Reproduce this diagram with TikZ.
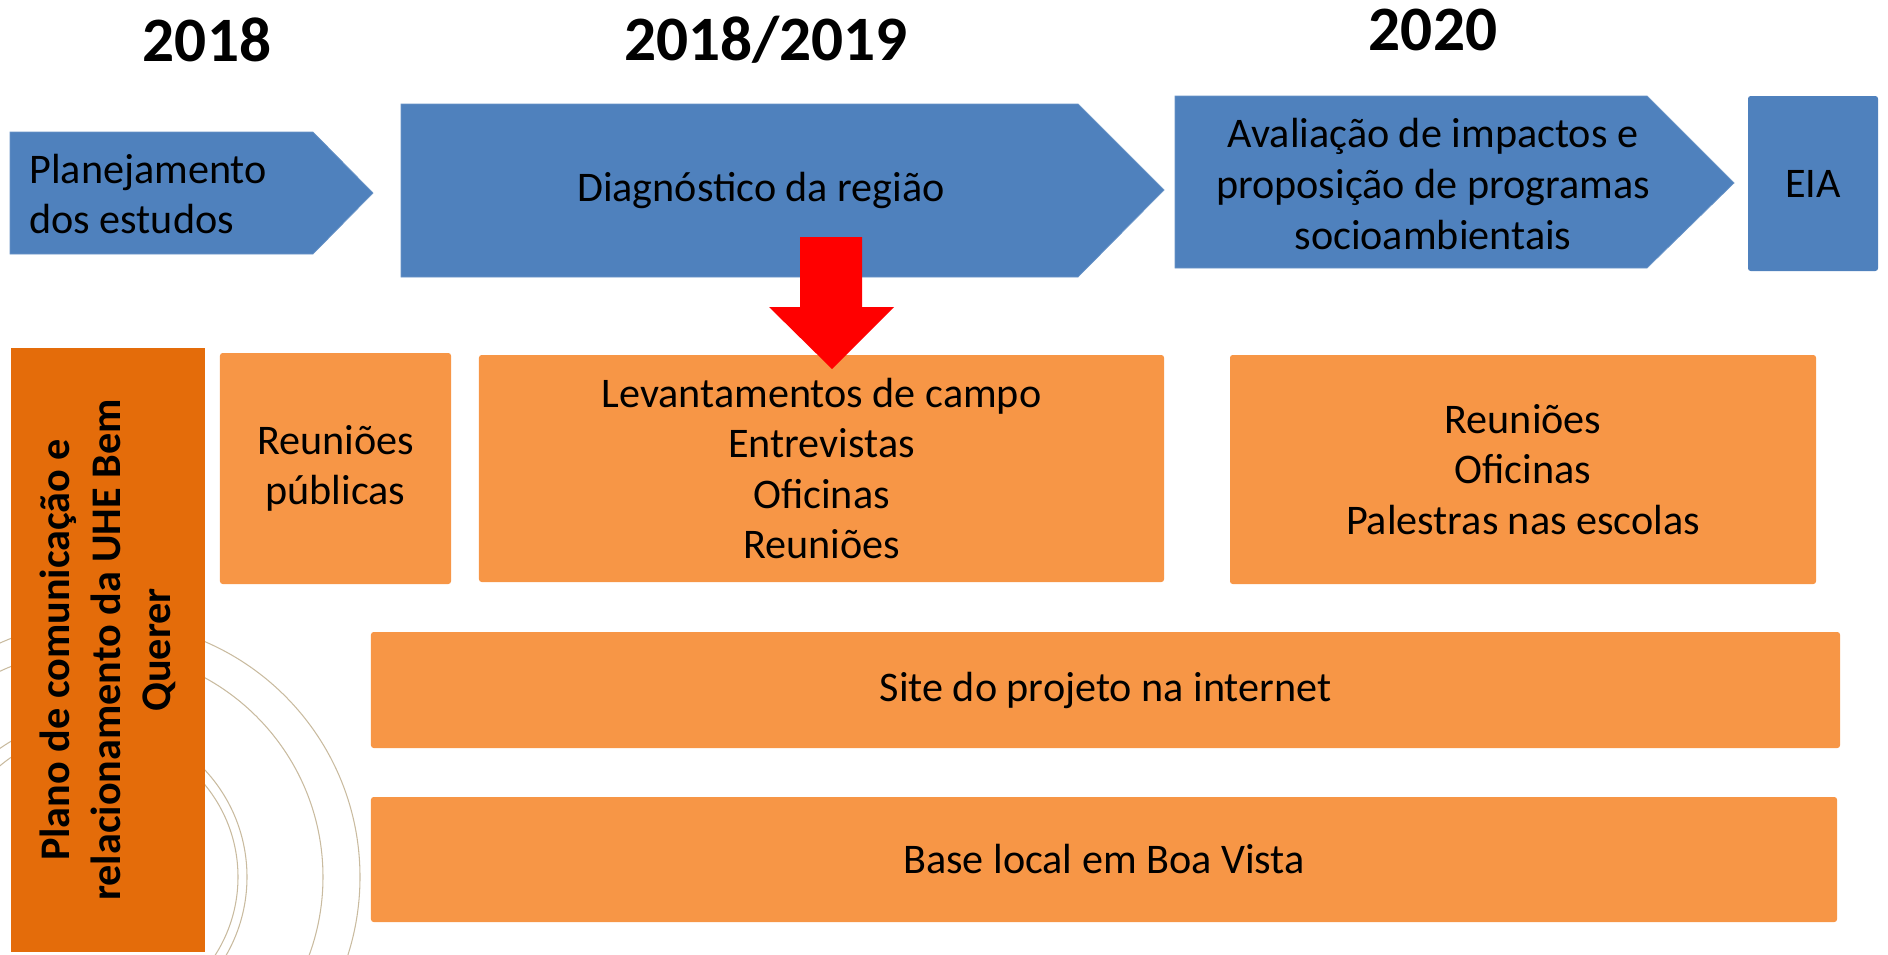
\documentclass[tikz,border=0pt]{standalone}
\usepackage{fontspec}
\setmainfont{Carlito}
\usepackage{xcolor}
\definecolor{phaseblue}{HTML}{4F81BD}
\definecolor{actorange}{HTML}{F79646}
\definecolor{planorange}{HTML}{E46C0A}
\definecolor{flagred}{HTML}{FF0000}
\definecolor{ringtan}{HTML}{C9BB9F}

\begin{document}
\begin{tikzpicture}[x=0.2mm, y=-0.2mm,
    every node/.style={font=\fontsize{24}{28.8}\selectfont, inner sep=0pt},
    year/.style={font=\fontsize{36}{43}\selectfont\bfseries},
    phase/.style={fill=phaseblue, draw=phaseblue!85!white, line width=0.4pt},
    phasetext/.style={align=center},
    activity/.style={
        rectangle, rounded corners=1.5pt,
        fill=actorange, align=center,
    },
    planbox/.style={
        rectangle, fill=planorange, align=center, rotate=90,
        font=\fontsize{24}{28.8}\selectfont\bfseries,
    },
    ring/.style={draw=ringtan, line width=0.6pt},
]
\useasboundingbox (0,0) rectangle (1888,955);

% ── Background rings (bottom-left) ────────────────────────────────────
\begin{scope}
    \clip (0,0) rectangle (1888,955);
    \draw[ring] (104,877) circle[radius=51.2mm];
    \draw[ring] (96,877)  circle[radius=45.4mm];
    \draw[ring] (90,877)  circle[radius=31.4mm];
    \draw[ring] (93,877)  circle[radius=29mm];
\end{scope}

% ── Years ─────────────────────────────────────────────────────────────
\node[year] (y2018) at (207,40)  {2018};
\node[year] (y1819) at (766,40)  {2018/2019};
\node[year] (y2020) at (1433,30) {2020};

% ── Study phases (blue chevrons) ──────────────────────────────────────
\fill[phase] (10,132) -- (313,132) -- (373,193) -- (313,254) -- (10,254) -- cycle;
\node[anchor=west, align=left] (plan) at (29,194) {Planejamento\\dos estudos};

\fill[phase] (401,104) -- (1078,104) -- (1164,190) -- (1078,277) -- (401,277) -- cycle;
\node[phasetext] (diag) at (761,190) {Diagnóstico da região};

\fill[phase] (1175,96) -- (1647,96) -- (1734,183) -- (1647,268) -- (1175,268) -- cycle;
\node[phasetext] (aval) at (1433,184)
    {Avaliação de impactos e\\proposição de programas\\socioambientais};

\node[rectangle, rounded corners=1.5pt, fill=phaseblue,
      minimum width=26mm, minimum height=35mm] (eia) at (1813,183.5) {EIA};

% ── Communication plan ────────────────────────────────────────────────
\node[planbox, minimum width=120.8mm, minimum height=38.8mm] (plano) at (108,650)
    {Plano de comunicação e\\relacionamento da UHE Bem\\Querer};

\node[activity, minimum width=46.2mm, minimum height=46.2mm] (reunpub) at (335.5,468.5)
    {Reuniões\\públicas};
\node[activity, minimum width=137mm, minimum height=45.4mm] (campo) at (821.5,468.5)
    {Levantamentos de campo\\Entrevistas\\Oficinas\\Reuniões};
\node[activity, minimum width=117.2mm, minimum height=45.8mm] (oficinas) at (1523,469.5)
    {Reuniões\\Oficinas\\Palestras nas escolas};
\node[activity, minimum width=293.8mm, minimum height=23.2mm] (site) at (1105.5,690)
    {Site do projeto na internet};
\node[activity, minimum width=293.2mm, minimum height=25mm] (base) at (1104,859.5)
    {Base local em Boa Vista};

% ── Highlight arrow ───────────────────────────────────────────────────
\fill[flagred] (800,237) -- (862,237) -- (862,307) -- (894,307) -- (832,369)
    -- (769,307) -- (800,307) -- cycle;

\end{tikzpicture}
\end{document}
